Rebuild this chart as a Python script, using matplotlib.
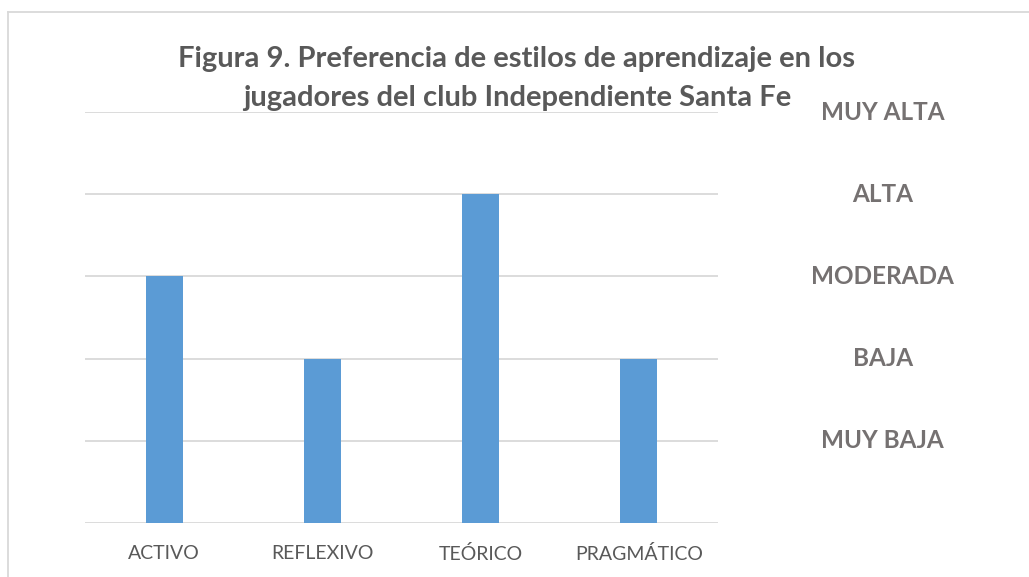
import matplotlib
matplotlib.use("Agg")
import matplotlib.pyplot as plt
from matplotlib.lines import Line2D
import matplotlib.transforms as mtransforms

plt.rcParams["font.family"] = ["Lato", "DejaVu Sans"]

# data
estilos = ["ACTIVO", "REFLEXIVO", "TEÓRICO", "PRAGMÁTICO"]
nivel = [3, 2, 4, 2]
niveles_txt = ["MUY BAJA", "BAJA", "MODERADA", "ALTA", "MUY ALTA"]
niveles_val = [1, 2, 3, 4, 5]
titulo = ["Figura 9. Preferencia de estilos de aprendizaje en los",
          "jugadores del club Independiente Santa Fe"]

BAR = "#5b9bd5"
GRID = "#d9d9d9"
TXT = "#595959"
LVL = "#757171"

fig = plt.figure(figsize=(10.29, 5.77), dpi=100)
ax = fig.add_axes([85 / 1029, 1 - 523 / 577, 633 / 1029, 411 / 577])

x = range(len(estilos))
ax.bar(x, nivel, width=0.235, color=BAR, zorder=2)
ax.set_xlim(-0.5, len(estilos) - 0.5)
ax.set_ylim(0, 5)
ax.set_yticks(range(0, 6))
ax.yaxis.grid(True, color=GRID, lw=1.3, zorder=0)
ax.tick_params(left=False, labelleft=False, bottom=False)
ax.set_xticks(list(x))
ax.set_xticklabels(estilos, fontsize=14, color=TXT)
ax.tick_params(axis="x", pad=12)
for s in ax.spines.values():
    s.set_visible(False)

# level labels at right
tr = mtransforms.blended_transform_factory(ax.transAxes, ax.transData)
for v, t in zip(niveles_val, niveles_txt):
    ax.text(1.26, v, t, transform=tr, ha="center", va="center",
            fontsize=17.5, fontweight="bold", color=LVL, clip_on=False)

# two-line title, one text per line
for i, linea in enumerate(titulo):
    fig.text(517 / 1029, 1 - (67 + 39 * i) / 577, linea, ha="center", va="baseline",
             fontsize=21, fontweight="bold", color=TXT)

# chart border
fig.add_artist(Line2D([8 / 1029, 1], [1 - 12 / 577] * 2, transform=fig.transFigure, color=GRID, lw=1.3))
fig.add_artist(Line2D([8 / 1029] * 2, [0, 1 - 12 / 577], transform=fig.transFigure, color=GRID, lw=1.3))

fig.savefig("out.png", dpi=100)
